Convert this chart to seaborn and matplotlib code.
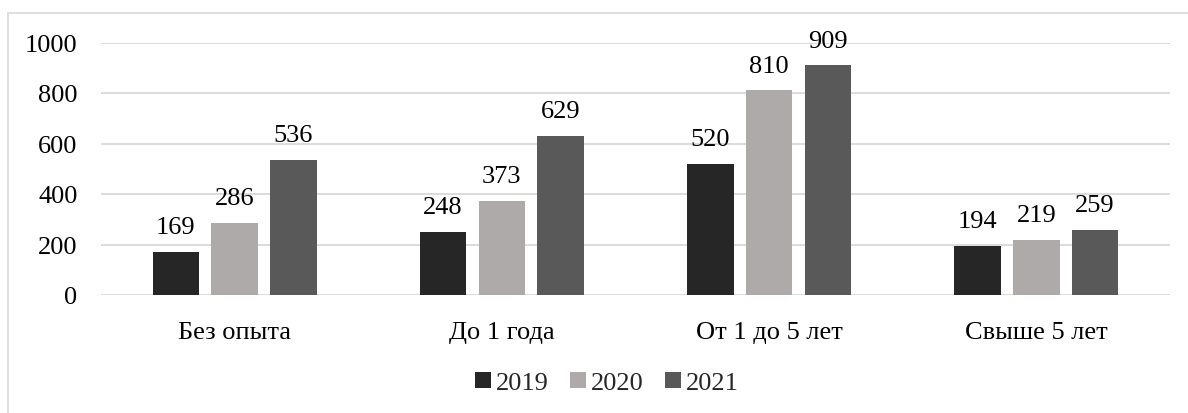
import matplotlib
matplotlib.use("Agg")
import matplotlib.pyplot as plt
import matplotlib.patches as mpatches
import pandas as pd
import seaborn as sns

# Data: job applicants by work experience
categories = ["Без опыта", "До 1 года", "От 1 до 5 лет", "Свыше 5 лет"]
years = ["2019", "2020", "2021"]
values_2019 = [169, 248, 520, 194]
values_2020 = [286, 373, 810, 219]
values_2021 = [536, 629, 909, 259]
y_ticks = [0, 200, 400, 600, 800, 1000]

colors = {"2019": "#262626", "2020": "#AEAAAA", "2021": "#595959"}

rows = []
for year, vals in zip(years, [values_2019, values_2020, values_2021]):
    for cat, v in zip(categories, vals):
        rows.append({"Категория": cat, "Год": year, "Значение": v})
df = pd.DataFrame(rows)

sns.set_theme(style="white")
plt.rcParams["font.family"] = ["Liberation Serif", "DejaVu Serif"]
FS = 19

fig = plt.figure(figsize=(11.88, 4.14), dpi=100)
ax = fig.add_axes([101 / 1188, 1 - 296 / 414, 1069 / 1188, 252.5 / 414])

sns.barplot(data=df, x="Категория", y="Значение", hue="Год",
            order=categories, hue_order=years, palette=colors,
            width=0.66, gap=0.21, saturation=1, errorbar=None,
            edgecolor="none", ax=ax)

for cont in ax.containers:
    ax.bar_label(cont, fmt="%d", padding=10, fontsize=FS, color="#000000")

ax.set_ylim(0, 1000)
ax.set_xlim(-0.5, 3.5)
ax.set_yticks(y_ticks)
ax.set_yticklabels([str(t) for t in y_ticks])
ax.yaxis.grid(True, color="#D9D9D9", linewidth=1.3)
ax.set_axisbelow(True)
for s in ax.spines.values():
    s.set_visible(False)
ax.tick_params(axis="both", length=0, labelsize=FS, colors="#000000")
ax.tick_params(axis="x", pad=19)
ax.tick_params(axis="y", pad=17)
ax.set_xlabel("")
ax.set_ylabel("")

sns.move_legend(ax, "center", bbox_to_anchor=((607 - 101) / 1069, (296 - 384) / 252.5),
                ncol=3, frameon=False, title=None, fontsize=FS,
                handlelength=0.6, handleheight=0.6, handletextpad=0.2,
                columnspacing=0.8)

# Outer frame of the chart area
frame = mpatches.Rectangle((7.5 / 1188, -0.2), 1.2, 1.2 - 14 / 414,
                           transform=fig.transFigure, fill=False,
                           edgecolor="#D9D9D9", linewidth=1.2, zorder=-1)
fig.patches.append(frame)

fig.savefig("out.png", dpi=100)
